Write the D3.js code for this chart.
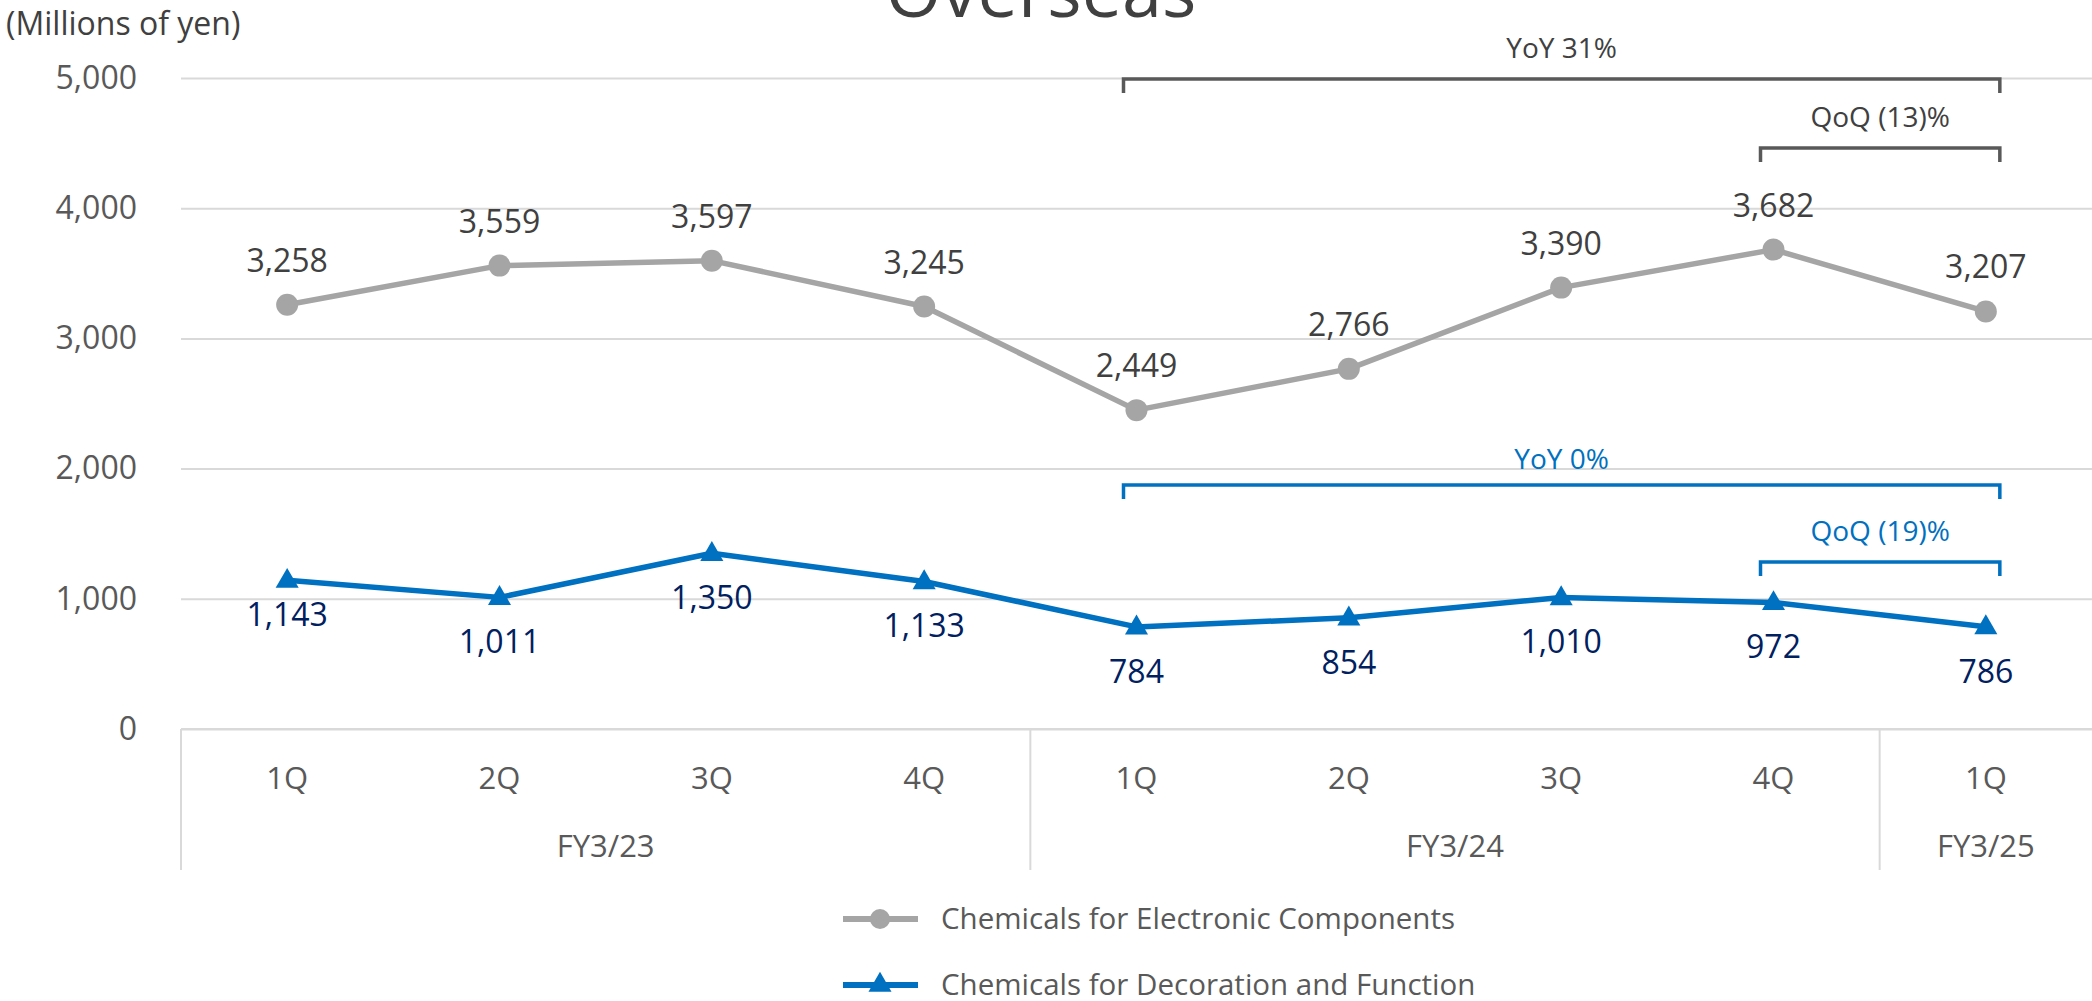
<!DOCTYPE html>
<html>
<head>
<meta charset="utf-8">
<script src="https://cdn.jsdelivr.net/npm/d3@7"></script>
<style>
  html, body { margin: 0; padding: 0; background: #ffffff; overflow: hidden; }
  svg { display: block; font-family: "Open Sans", "Noto Sans", sans-serif; }
</style>
</head>
<body>
<svg id="chart" width="2092" height="1001"></svg>
<script>
// Quarterly overseas sales, millions of yen
const quarters = ["1Q", "2Q", "3Q", "4Q", "1Q", "2Q", "3Q", "4Q", "1Q"];
const fiscalYears = [
  { label: "FY3/23", from: 0, to: 3 },
  { label: "FY3/24", from: 4, to: 7 },
  { label: "FY3/25", from: 8, to: 8 }
];
const electronicValues = [3258, 3559, 3597, 3245, 2449, 2766, 3390, 3682, 3207];
const decorationValues = [1143, 1011, 1350, 1133, 784, 854, 1010, 972, 786];
const yTicks = [0, 1000, 2000, 3000, 4000, 5000];
const seriesNames = ["Chemicals for Electronic Components", "Chemicals for Decoration and Function"];
// Growth brackets: [label, first index, last index]
const electronicBrackets = [["YoY 31%", 4, 8], ["QoQ (13)%", 7, 8]];
const decorationBrackets = [["YoY 0%", 4, 8], ["QoQ (19)%", 7, 8]];

const svg = d3.select("#chart");
const plot = { left: 181, right: 2092, top: 78, bottom: 729 };

const x = d3.scaleBand().domain(d3.range(quarters.length)).range([plot.left, plot.right]).padding(0);
const cx = i => x(i) + x.bandwidth() / 2;
const y = d3.scaleLinear().domain([0, 5000]).range([plot.bottom, plot.top]);
const fmt = d3.format(",");

const GRID = "#d9d9d9";
const GREY = "#a5a5a5";
const BLUE = "#0070c0";

// Title (sits partly above the canvas)
svg.append("text")
  .attr("x", 1041).attr("y", 17)
  .attr("text-anchor", "middle")
  .attr("font-size", 72)
  .attr("fill", "#404040")
  .text("Overseas");

// Unit label
svg.append("text")
  .attr("x", 6).attr("y", 35)
  .attr("font-size", 32)
  .attr("fill", "#404040")
  .text("(Millions of yen)");

// Gridlines and value axis labels
const yAxis = d3.axisLeft(y).tickValues(yTicks).tickFormat(fmt)
  .tickSize(-(plot.right - plot.left)).tickPadding(44);
const yg = svg.append("g").attr("transform", `translate(${plot.left},0)`).call(yAxis);
yg.select(".domain").remove();
yg.selectAll(".tick line").attr("stroke", GRID).attr("stroke-width", 2);
yg.selectAll(".tick text")
  .attr("font-size", 32).attr("fill", "#595959")
  .attr("font-family", "Open Sans, Noto Sans, sans-serif");

// Category axis: quarter row, fiscal-year row and separators
const xg = svg.append("g");
xg.append("line")
  .attr("x1", plot.left).attr("x2", plot.right)
  .attr("y1", y(0)).attr("y2", y(0))
  .attr("stroke", GRID).attr("stroke-width", 2);
xg.selectAll(".q").data(quarters).join("text")
  .attr("class", "q")
  .attr("x", (d, i) => cx(i)).attr("y", 789)
  .attr("text-anchor", "middle")
  .attr("font-size", 31).attr("fill", "#595959")
  .text(d => d);
xg.selectAll(".sep").data(fiscalYears).join("line")
  .attr("class", "sep")
  .attr("x1", d => x(d.from)).attr("x2", d => x(d.from))
  .attr("y1", y(0)).attr("y2", 870)
  .attr("stroke", GRID).attr("stroke-width", 2);
xg.selectAll(".fy").data(fiscalYears).join("text")
  .attr("class", "fy")
  .attr("x", d => (x(d.from) + x(d.to) + x.bandwidth()) / 2).attr("y", 857)
  .attr("text-anchor", "middle")
  .attr("font-size", 31).attr("fill", "#595959")
  .text(d => d.label);

// Series lines
const line = d3.line().x((d, i) => cx(i)).y(d => y(d));
svg.append("path").datum(electronicValues)
  .attr("d", line).attr("fill", "none")
  .attr("stroke", GREY).attr("stroke-width", 5.5).attr("stroke-linejoin", "round");
svg.append("path").datum(decorationValues)
  .attr("d", line).attr("fill", "none")
  .attr("stroke", BLUE).attr("stroke-width", 5.5).attr("stroke-linejoin", "round");

// Markers
svg.selectAll(".dot").data(electronicValues).join("circle")
  .attr("class", "dot")
  .attr("cx", (d, i) => cx(i)).attr("cy", d => y(d))
  .attr("r", 11).attr("fill", GREY);
const tri = d3.symbol().type(d3.symbolTriangle).size(230);
svg.selectAll(".tri").data(decorationValues).join("path")
  .attr("class", "tri")
  .attr("transform", (d, i) => `translate(${cx(i)},${y(d) + 1})`)
  .attr("d", tri).attr("fill", BLUE);

// Data labels: above the circles, below the triangles
svg.selectAll(".lblE").data(electronicValues).join("text")
  .attr("class", "lblE")
  .attr("x", (d, i) => cx(i)).attr("y", d => y(d) - 33)
  .attr("text-anchor", "middle")
  .attr("font-size", 32).attr("fill", "#404040")
  .text(d => fmt(d));
svg.selectAll(".lblD").data(decorationValues).join("text")
  .attr("class", "lblD")
  .attr("x", (d, i) => cx(i)).attr("y", (d, i) => y(d) + (i === 0 ? 46 : 56))
  .attr("text-anchor", "middle")
  .attr("font-size", 32).attr("fill", "#002060")
  .text(d => fmt(d));

// Growth brackets
function bracket(spec, lineY, textY, stroke, textColor) {
  const [label, a, b] = spec;
  const x1 = cx(a) - 13, x2 = cx(b) + 14;
  svg.append("path")
    .attr("d", `M${x1},${lineY + 14}V${lineY}H${x2}V${lineY + 14}`)
    .attr("fill", "none").attr("stroke", stroke).attr("stroke-width", 3.5);
  svg.append("text")
    .attr("x", (x1 + x2) / 2).attr("y", textY)
    .attr("text-anchor", "middle")
    .attr("font-size", 28).attr("fill", textColor)
    .text(label);
}
bracket(electronicBrackets[0], 79, 58, "#595959", "#404040");
bracket(electronicBrackets[1], 148, 127, "#595959", "#404040");
bracket(decorationBrackets[0], 485, 469, BLUE, BLUE);
bracket(decorationBrackets[1], 562, 541, BLUE, BLUE);

// Legend
const legend = svg.append("g");
const legendRows = [
  { name: seriesNames[0], color: GREY, y: 919, mark: "circle" },
  { name: seriesNames[1], color: BLUE, y: 985, mark: "triangle" }
];
legendRows.forEach(r => {
  legend.append("line")
    .attr("x1", 843).attr("x2", 918).attr("y1", r.y).attr("y2", r.y)
    .attr("stroke", r.color).attr("stroke-width", 6);
  if (r.mark === "circle") {
    legend.append("circle").attr("cx", 880).attr("cy", r.y).attr("r", 10).attr("fill", r.color);
  } else {
    legend.append("path").attr("transform", `translate(880,${r.y})`).attr("d", tri).attr("fill", r.color);
  }
  legend.append("text")
    .attr("x", 941).attr("y", r.y + 10)
    .attr("font-size", 29.5).attr("fill", "#595959")
    .text(r.name);
});
</script>
</body>
</html>
